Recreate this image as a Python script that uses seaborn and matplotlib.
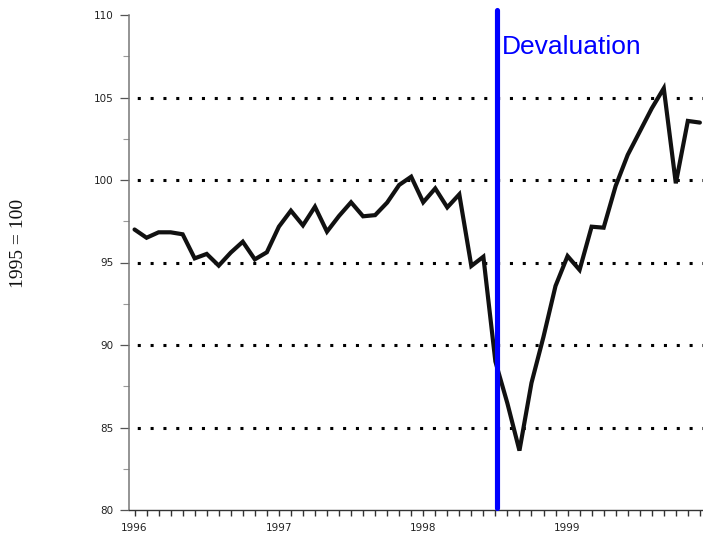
import numpy as np
import pandas as pd
import matplotlib
matplotlib.use("Agg")
import matplotlib.pyplot as plt
import seaborn as sns

# ---- data ----
months = pd.date_range("1996-01-01", "1999-12-01", freq="MS").strftime("%Y-%m").tolist()
index_values = [97.0, 96.5, 96.83, 96.83, 96.71, 95.25, 95.52, 94.81, 95.6, 96.26, 95.19, 95.62,
                97.17, 98.14, 97.25, 98.38, 96.87, 97.82, 98.65, 97.8, 97.87, 98.63, 99.7, 100.2,
                98.65, 99.49, 98.34, 99.13, 94.79, 95.35, 89.0, 86.46, 83.6, 87.7, 90.5, 93.58,
                95.39, 94.55, 97.17, 97.11, 99.64, 101.52, 102.93, 104.34, 105.56, 99.8, 103.58, 103.48]
year_labels = ["1996", "1997", "1998", "1999"]
grid_levels = [85, 90, 95, 100, 105]
y_ticks = [80, 85, 90, 95, 100, 105, 110]
devaluation_month = 30.1  # months after Jan 1996
devaluation_label = "Devaluation"
y_label = "1995 = 100"

df = pd.DataFrame({"month": months, "value": index_values})
df["pos"] = np.arange(len(df))

sns.set_style("white")
plt.rcParams["font.family"] = ["DejaVu Sans"]

W, H = 703, 533
fig = plt.figure(figsize=(W / 100, H / 100), dpi=100)
ax = fig.add_axes([129 / W, 23 / H, (W - 129) / W, 495 / H])

# dotted reference lines
for g in grid_levels:
    ax.axhline(g, color="black", lw=2.2, linestyle=(1.5, (1, 3.2)), zorder=1)

sns.lineplot(data=df, x="pos", y="value", ax=ax, color="#111111", lw=3.0,
             solid_joinstyle="miter", zorder=3)

ax.axvline(devaluation_month, ymin=0.004, ymax=1.01, color="#0000ff", lw=3.7,
           zorder=4, clip_on=False)

ax.set_xlim(-0.46, 47.26)
ax.set_ylim(80, 110)

# x ticks: monthly, labelled at January
ax.set_xticks(df["pos"].values)
xt_labels = [year_labels[i // 12] if i % 12 == 0 else "" for i in range(len(df))]
ax.set_xticklabels(xt_labels, fontsize=7.5, color="#222222")
ax.tick_params(axis="x", which="major", direction="out", length=4.5, width=1.0,
               color="#333333", pad=5, bottom=True)

ax.set_yticks(y_ticks)
ax.set_yticklabels([str(t) for t in y_ticks], fontsize=7.5, color="#222222")
ax.set_yticks([82.5, 87.5, 92.5, 97.5, 102.5, 107.5], minor=True)
ax.tick_params(axis="y", which="major", direction="out", length=6.2, width=0.9,
               color="#555555", pad=5, left=True)
ax.tick_params(axis="y", which="minor", direction="out", length=4.3, width=0.8,
               color="#999999", left=True)

for s in ["top", "right"]:
    ax.spines[s].set_visible(False)
ax.spines["left"].set_color("#777777")
ax.spines["left"].set_linewidth(1.1)
ax.spines["bottom"].set_color("#333333")
ax.spines["bottom"].set_linewidth(1.0)

ax.set_xlabel("")
ax.set_ylabel("")

fig.text(502 / W, (H - 54) / H, devaluation_label, color="#0000ff", fontsize=19,
         family=["Liberation Sans", "DejaVu Sans"], ha="left", va="baseline")
fig.text(18.5 / W, (H - 243) / H, y_label, rotation=90, fontsize=14,
         family=["Liberation Serif", "DejaVu Serif"], ha="center", va="center",
         color="#111111")

fig.savefig("out.png", dpi=100)
